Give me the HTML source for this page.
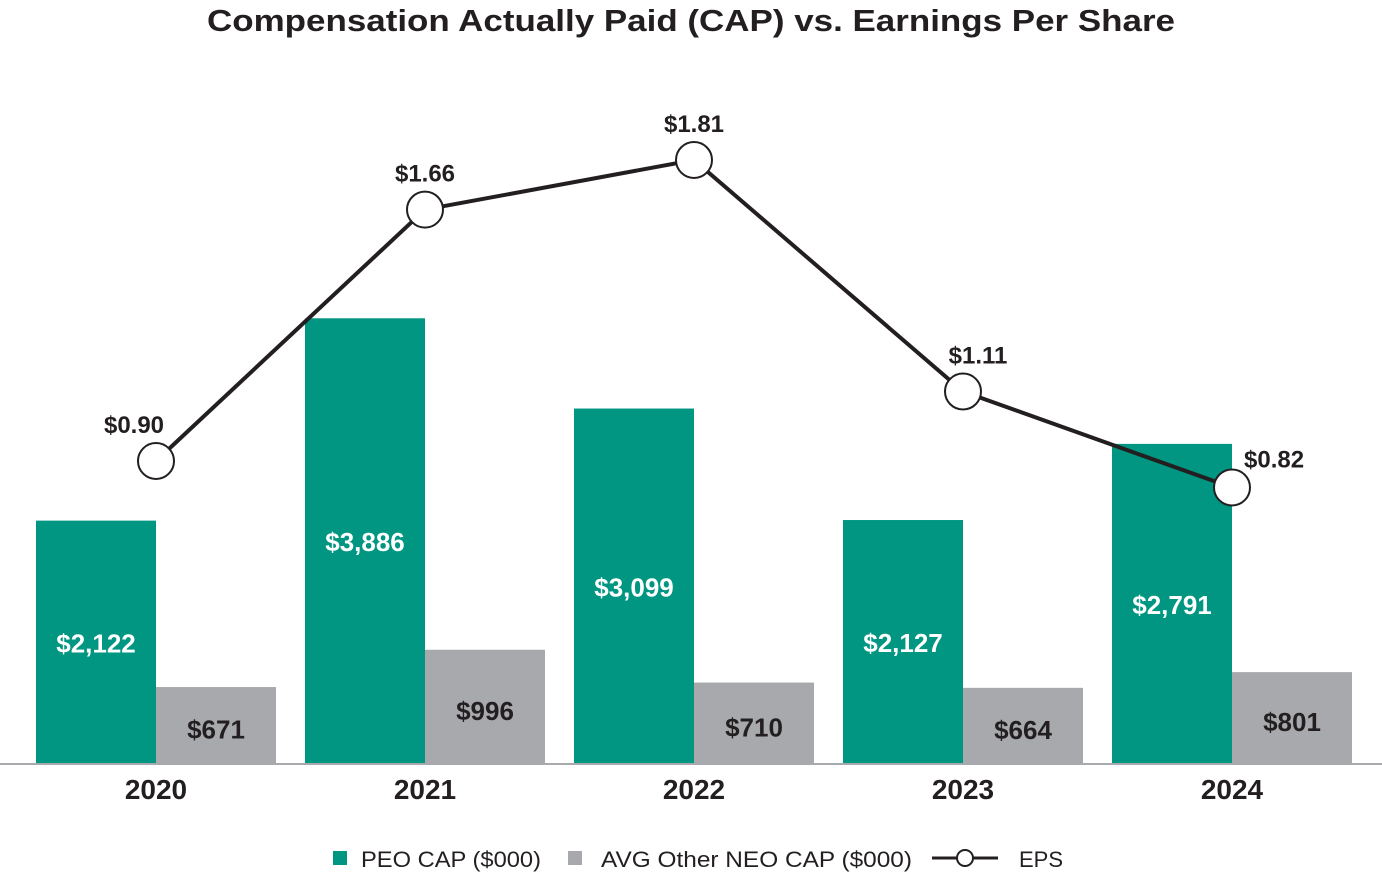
<!DOCTYPE html>
<html><head><meta charset="utf-8"><style>
body{margin:0;background:#fff;}
svg text{font-family:"Liberation Sans",sans-serif;}
</style></head><body>
<svg width="1382" height="872" viewBox="0 0 1382 872">
<text x="207" y="31" font-size="31" font-weight="bold" fill="#231f20" textLength="968" lengthAdjust="spacingAndGlyphs">Compensation Actually Paid (CAP) vs. Earnings Per Share</text>
<g id="bars"></g>
<line x1="0" y1="764" x2="1382" y2="764" stroke="#a7a9ac" stroke-width="2"/>
<g id="xlabels"></g>
<g id="eps"></g>
<g>
<rect x="333" y="851" width="14" height="14" fill="#009682"/>
<text x="361" y="867" font-size="22" fill="#231f20" textLength="180" lengthAdjust="spacingAndGlyphs">PEO CAP ($000)</text>
<rect x="568" y="851" width="14" height="14" fill="#a7a9ac"/>
<text x="601" y="867" font-size="22" fill="#231f20" textLength="311" lengthAdjust="spacingAndGlyphs">AVG Other NEO CAP ($000)</text>
<line x1="932" y1="858" x2="998" y2="858" stroke="#231f20" stroke-width="3"/>
<circle cx="965" cy="858" r="8" fill="#fff" stroke="#231f20" stroke-width="2"/>
<text x="1019" y="867" font-size="22" fill="#231f20">EPS</text>
</g>
</svg>
<script>
const years=["2020","2021","2022","2023","2024"];
const peo=[2122,3886,3099,2127,2791];
const avg=[671,996,710,664,801];
const eps=[0.90,1.66,1.81,1.11,0.82];
const NS="http://www.w3.org/2000/svg";
const base=764, groupW=269, x0=156, bw=120;
const cx=i=>x0+i*groupW;
const yC=v=>base-v*0.1147;
const yE=v=>461-(v-0.9)*330.8;
function mk(tag,at,parent,txt){const e=document.createElementNS(NS,tag);for(const k in at)e.setAttribute(k,at[k]);if(txt!==undefined)e.textContent=txt;parent.appendChild(e);return e;}
const fmt=v=>"$"+v.toLocaleString("en-US");
const gb=document.getElementById("bars"),gx=document.getElementById("xlabels"),ge=document.getElementById("eps");
years.forEach((y,i)=>{
  const c=cx(i);
  let r=mk("rect",{x:c-bw,y:yC(peo[i]),width:bw,height:base-yC(peo[i]),fill:"#009682"},gb);
  
  
  let t=mk("text",{x:c-bw/2,y:(yC(peo[i])+base)/2+10,"text-anchor":"middle","font-size":"26","font-weight":"bold",fill:"#fff"},gb,fmt(peo[i]));
  
  
  r=mk("rect",{x:c,y:yC(avg[i]),width:bw,height:base-yC(avg[i]),fill:"#a7a9ac"},gb);
  
  
  t=mk("text",{x:c+bw/2,y:(yC(avg[i])+base)/2+13,"text-anchor":"middle","font-size":"26","font-weight":"bold",fill:"#231f20"},gb,fmt(avg[i]));
  
  
  t=mk("text",{x:c,y:799,"text-anchor":"middle","font-size":"28","font-weight":"bold",fill:"#231f20"},gx,y);
  
  
});
const pts=eps.map((v,i)=>[cx(i),yE(v)]);
const pl=mk("polyline",{points:pts.map(p=>p.join(",")).join(" "),fill:"none",stroke:"#231f20","stroke-width":"4"},ge);


eps.forEach((v,i)=>{
  const [x,y]=pts[i];
  const c=mk("circle",{cx:x,cy:y,r:18,fill:"#fff",stroke:"#231f20","stroke-width":"2"},ge);
  
  
  let lx=x,ly=y-28,anc="middle";
  if(i===0){lx=x-22;}
  if(i===eps.length-1){lx=x+12;ly=y-20;anc="start";}
  if(i===3){lx=x+15;}
  const t=mk("text",{x:lx,y:ly,"text-anchor":anc,"font-size":"24","font-weight":"bold",fill:"#231f20"},ge,"$"+v.toFixed(2));
  
  
});
</script>
</body></html>
